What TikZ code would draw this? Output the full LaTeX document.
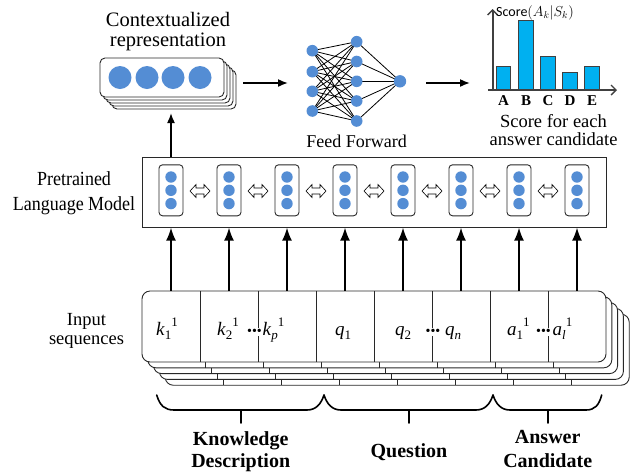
\documentclass[tikz,border=0pt]{standalone}
\usepackage{fontspec}
\setmainfont{Liberation Serif}
\newfontfamily\condfont{Liberation Serif}[FakeStretch=0.9]
\newfontfamily\scorefont{Carlito}
\usetikzlibrary{arrows.meta,calc}
\definecolor{dotblue}{RGB}{84,141,212}
\definecolor{barcyan}{RGB}{0,176,240}
\definecolor{axisgray}{RGB}{64,64,64}
\definecolor{boxline}{RGB}{40,40,40}
\newcommand{\tok}[3]{\textit{#1}\raisebox{-0.22em}{\fontsize{13}{13}\selectfont #2}\raisebox{0.5em}{\fontsize{13}{13}\selectfont #3}}
\begin{document}
\begin{tikzpicture}[x=1pt,y=-1pt,
  dot/.style={circle,fill=dotblue,inner sep=0pt,minimum size=11.4pt},
  bigdot/.style={circle,fill=dotblue,inner sep=0pt,minimum size=23pt},
  nndot/.style={circle,fill=dotblue,inner sep=0pt,minimum size=11.6pt},
  tokbox/.style={draw=boxline,rounded corners=3.5pt,line width=0.9pt,minimum width=24pt,minimum height=51pt,inner sep=0pt},
  dblarrow/.style={draw=black,line width=0.6pt,fill=white,line join=miter},
  flow/.style={-{Latex[length=10pt,width=8pt]},line width=1.6pt},
  upflow/.style={-{Latex[length=13pt,width=10pt]},line width=2pt},
  cell/.style={rectangle,minimum width=58pt,minimum height=71pt,inner sep=0pt},
  term/.style={inner sep=0pt,anchor=base west,font=\fontsize{19}{22}\selectfont},
  dotsnode/.style={fill=white,inner sep=0.6pt,anchor=base,font=\fontsize{14}{14}\selectfont},
  lbl/.style={align=center,inner sep=0pt},
  bar/.style={draw=axisgray,line width=1.2pt,fill=barcyan,anchor=south,minimum width=14.5pt,inner sep=0pt},
  axis/.style={draw=axisgray,line width=1.8pt,-{Straight Barb[length=5pt,width=10pt,line width=1.4pt]}},
  brace/.style={line width=1.6pt,line cap=round}
]
\useasboundingbox (0,0) rectangle (638,475);

% ---------- Contextualized representation ----------
\foreach \k in {4,3,2,1}{
  \draw[boxline,fill=white,line width=0.9pt,rounded corners=5pt]
    (100+3*\k,58+3*\k) rectangle (224+3*\k,97+3*\k);
}
\node[draw=boxline,fill=white,line width=0.9pt,rounded corners=5pt,minimum width=124pt,minimum height=39pt,inner sep=0pt] (ctx) at (162,77.5) {};
\foreach \x/\n in {120/1,147/2,173/3,200/4}{
  \node[bigdot] (cd\n) at (\x,77.5) {};
}
\node[lbl,font=\fontsize{20.5}{19.5}\selectfont] (ctxlabel) at (168,31.5) {Contextualized\\representation};

% ---------- Feed forward network ----------
\foreach \y/\n in {50.7/1,71.7/2,91.3/3,111/4}{
  \coordinate (i\n) at (312.3,\y);
}
\foreach \y/\n in {41.7/1,61.5/2,81.3/3,101/4,121/5}{
  \coordinate (h\n) at (356.7,\y);
}
\coordinate (o) at (400,81.3);
\foreach \a in {1,...,4}{
  \foreach \b in {1,...,5}{
    \draw[line width=0.8pt] (i\a) -- (h\b);
  }
}
\foreach \b in {1,...,5}{
  \draw[line width=0.8pt] (h\b) -- (o);
}
\foreach \n in {1,...,4}{ \node[nndot] (ni\n) at (i\n) {}; }
\foreach \n in {1,...,5}{ \node[nndot] (nh\n) at (h\n) {}; }
\node[nndot,minimum size=12.4pt] (no) at (o) {};
\node[anchor=base,inner sep=0pt,font=\fontsize{18}{20}\selectfont] (fflabel) at (356.7,147.5) {Feed Forward};

% ---------- Score chart ----------
\coordinate (orig) at (492.7,91);
\coordinate (ytop) at (492.7,9);
\coordinate (xleft) at (488,90);
\coordinate (xright) at (617,90);
\node[bar,minimum height=23.3pt] (bA) at (503.5,90) {};
\node[bar,minimum height=69pt]   (bB) at (526,90) {};
\node[bar,minimum height=33.3pt] (bC) at (548,90) {};
\node[bar,minimum height=17pt]   (bD) at (570,90) {};
\node[bar,minimum height=23.3pt] (bE) at (592,90) {};
\draw[axis] (orig) -- (ytop);
\draw[axis] (xleft) -- (xright);
\foreach \b/\t in {bA/A,bB/B,bC/C,bD/D,bE/E}{
  \node[anchor=base,inner sep=0pt,font=\fontsize{15}{16}\selectfont\bfseries] at (\b.south |- 0,105) {\t};
}
\node[anchor=base west,inner sep=0pt,font=\fontsize{14}{15}\selectfont] (scorelabel) at (496,16.7) {{\scorefont Score}$(A_k|S_k)$};
\node[lbl,font=\fontsize{18.5}{18}\selectfont] (scoretext) at (553.5,130.5) {Score for each\\answer candidate};

% top arrows
\coordinate (fa) at (243,83);
\coordinate (fb) at (288,83);
\coordinate (ga) at (426,83);
\coordinate (gb) at (470,83);
\draw[flow] (fa) -- (fb);
\draw[flow] (ga) -- (gb);

% ---------- Pretrained language model ----------
\node[draw=boxline,line width=1pt,minimum width=464pt,minimum height=70pt,inner sep=0pt] (plm) at (374,192) {};
\foreach \i in {1,...,8}{
  \pgfmathsetmacro{\xx}{171+58*(\i-1)}
  \node[tokbox] (b\i) at (\xx,190.3) {};
  \node[dot] at (\xx,177) {};
  \node[dot] at (\xx,190.3) {};
  \node[dot] at (\xx,203.6) {};
}
\foreach \i in {1,...,7}{
  \pgfmathsetmacro{\xx}{200+58*(\i-1)}
  \coordinate (d\i) at (\xx,191);
  \draw[dblarrow] (d\i) ++(-10,0) -- ++(6,-6.5) -- ++(0,3.5) -- ++(8,0) -- ++(0,-3.5)
     -- ++(6,6.5) -- ++(-6,6.5) -- ++(0,-3.5) -- ++(-8,0) -- ++(0,3.5) -- cycle;
}
\node[lbl,font=\condfont\fontsize{20}{25}\selectfont] (plmlabel) at (74,193) {Pretrained\\Language Model};

\coordinate (ctxin) at (171,113);
\draw[flow] (b1 |- plm.north) -- (ctxin);

% ---------- Input sequences ----------
\foreach \k in {4,3,2,1}{
  \pgfmathsetmacro{\off}{5.8*\k}
  \draw[boxline,fill=white,line width=0.9pt,rounded corners=8pt]
    (142+\off,291+\off) rectangle (606+\off,362+\off);
  \foreach \j in {1,...,7}{
    \draw[boxline,line width=0.8pt] (200+58*\j-58+\off,291+\off) -- (200+58*\j-58+\off,362+\off);
  }
}
\node[draw=boxline,fill=white,line width=0.9pt,rounded corners=8pt,minimum width=464pt,minimum height=71pt,inner sep=0pt] (inbox) at (374,326.5) {};
\foreach \i in {1,...,8}{
  \pgfmathsetmacro{\xx}{171+58*(\i-1)}
  \node[cell] (c\i) at (\xx,326.5) {};
}
\foreach \j in {1,...,7}{
  \draw[boxline,line width=0.8pt] (c\j.north east) -- (c\j.south east);
}
\foreach \i in {1,...,8}{
  \draw[upflow] (c\i.north) -- (c\i |- plm.south);
}
% cell texts
\node[term] (t1) at (156,335.5) {\tok{k}{1}{1}};
\node[term] (t2) at (217,335.5) {\tok{k}{2}{1}};
\node[dotsnode] (dk) at (254.5,335) {•••};
\node[term] (t3) at (262.5,335.5) {\tok{k}{\textit{p}}{1}};
\node[term] (t4) at (335,335.5) {\tok{q}{1}{}};
\node[term] (t5) at (395,335.5) {\tok{q}{2}{}};
\node[dotsnode] (dq) at (433,335) {•••};
\node[term] (t6) at (445,335.5) {\tok{q}{\textit{n}}{}};
\node[term] (t7) at (507,335.5) {\tok{a}{1}{1}};
\node[dotsnode] (da) at (543.5,335) {•••};
\node[term] (t8) at (552.5,335.5) {\tok{a}{\textit{l}}{1}};

\node[lbl,font=\fontsize{18.5}{19.5}\selectfont] (inlabel) at (86.5,331) {Input\\sequences};

% ---------- Braces ----------
\draw[brace] (156.7,395) .. controls (160,406) and (165,410) .. (174,410) -- (307,410)
  .. controls (316,410) and (321,404) .. (324,395);
\draw[brace] (324,395) .. controls (327,404) and (332,410) .. (341,410) -- (476,410)
  .. controls (485,410) and (490,404) .. (493,395);
\draw[brace] (493,395) .. controls (496,404) and (501,410) .. (510,410) -- (586,410)
  .. controls (595,410) and (599,405) .. (601.7,395);
\coordinate (kb) at (240.7,410);
\coordinate (qb) at (409,410);
\coordinate (ab) at (547.7,410);
\draw[brace] (kb) -- ++(0,13);
\draw[brace] (qb) -- ++(0,13);
\draw[brace] (ab) -- ++(0,13);
\node[lbl,font=\fontsize{20}{22}\selectfont\bfseries] (klabel) at (240.7,451.7) {Knowledge\\Description};
\node[anchor=base,inner sep=0pt,font=\fontsize{20}{22}\selectfont\bfseries] (qlabel) at (409,457.7) {Question};
\node[lbl,font=\fontsize{20}{24}\selectfont\bfseries] (alabel) at (547.7,448.5) {Answer\\Candidate};
\end{tikzpicture}
\end{document}
